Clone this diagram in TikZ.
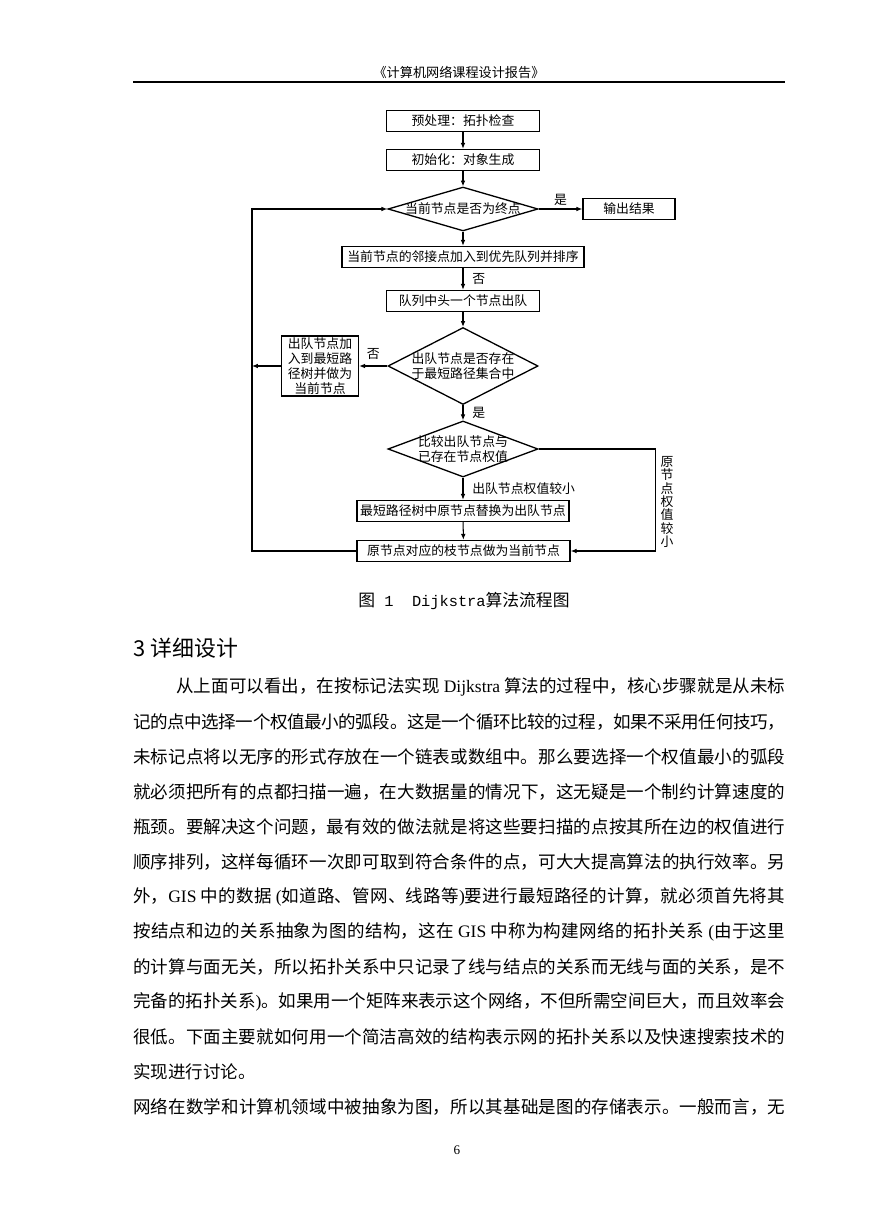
\documentclass[tikz,border=0pt]{standalone}
\usepackage{fontspec}
\setmainfont{Noto Sans CJK SC}
\newfontfamily\lat{Liberation Serif}
\newfontfamily\mono{Liberation Mono}
\usetikzlibrary{shapes.geometric,arrows.meta}
\XeTeXlinebreaklocale "zh"
\XeTeXlinebreakskip=0pt plus 2pt minus 0.6pt
\XeTeXlinebreakpenalty=10000
\hyphenpenalty=10000
\setlength{\parindent}{0pt}
\newcommand{\jline}[1]{\parfillskip=0pt\relax#1\par}
\tikzset{
	procbox/.style={draw,line width=1pt,inner sep=0pt,minimum height=14.4pt,font=\fontsize{8.8}{10.3}\selectfont},
	decision/.style={draw,diamond,line width=0.9pt,inner sep=0pt,minimum width=102.8pt},
	dtext/.style={inner sep=0pt,align=center,font=\fontsize{8.8}{10.5}\selectfont},
	flow/.style={line width=0.7pt,-{Latex[length=4pt,width=3.2pt]}},
	flowlabel/.style={inner sep=0pt,font=\fontsize{8.8}{9.2}\selectfont},
	bodyline/.style={anchor=west,inner sep=0pt,text width=446.6pt,align=justify,font=\fontsize{12}{14}\selectfont},
}
\begin{document}
\begin{tikzpicture}[x=0.685pt,y=-0.685pt]
	\path[use as bounding box,fill=white] (0,0) rectangle (869,1228);
	% running head
	\node [inner sep=0pt,font=\fontsize{9}{10}\selectfont] (head) at (459,72) {《计算机网络课程设计报告》};
	\coordinate (hl) at (133,82); \coordinate (hr) at (785,82);
	\draw [line width=0.8pt] (hl) -- (hr);
	% flow chart
	\node [procbox,minimum width=104.8pt] (pre) at (463,121) {预处理：拓扑检查};
	\node [procbox,minimum width=104.8pt] (init) at (463,160) {初始化：对象生成};
	\node [decision,minimum height=30.1pt] (isend) at (463,209) {};
	\node [dtext] (isendt) at (isend) {当前节点是否为终点};
	\node [procbox,minimum width=63pt] (output) at (629,209) {输出结果};
	\node [procbox,minimum width=165.8pt] (push) at (463,257) {当前节点的邻接点加入到优先队列并排序};
	\node [procbox,minimum width=104.8pt] (pop) at (463,301) {队列中头一个节点出队};
	\node [decision,minimum height=52.7pt] (intree) at (463,366) {};
	\node [dtext] (intreet) at (intree) {出队节点是否存在\\于最短路径集合中};
	\node [procbox,minimum width=52.7pt,minimum height=41.1pt,align=center] (addtree) at (320,366) {出队节点加\\入到最短路\\径树并做为\\当前节点};
	\node [decision,minimum height=38.4pt] (cmp) at (463,449) {};
	\node [dtext] (cmpt) at (cmp) {比较出队节点与\\已存在节点权值};
	\node [procbox,minimum width=145.2pt] (replace) at (463,511) {最短路径树中原节点替换为出队节点};
	\node [procbox,minimum width=145.9pt] (branch) at (463.5,551) {原节点对应的枝节点做为当前节点};
	\draw [flow] (pre) -- (init);
	\draw [flow] (init) -- (isend);
	\draw [flow] (isend) -- (push);
	\draw [flow] (push) -- node [flowlabel,right=6pt] (nolbla) {否} (pop);
	\draw [flow] (pop) -- (intree);
	\draw [flow] (intree) -- node [flowlabel,right=6pt] (yeslblb) {是} (cmp);
	\draw [flow] (cmp) -- node [flowlabel,right=6pt] (smalllbl) {出队节点权值较小} (replace);
	\draw [flow] (replace) -- (branch);
	\draw [flow] (isend) -- node [flowlabel,above=2pt] (yeslbla) {是} (output);
	\draw [flow] (intree) -- node [flowlabel,above=4pt] (nolblb) {否} (addtree);
	% loop back to the test
	\coordinate (loopb) at (252,551);
	\coordinate (loopt) at (252,209);
	\draw [flow] (addtree.west) -- (addtree.west -| loopb);
	\draw [flow] (branch.west) -- (loopb) -- (loopt) -- (isend.west);
	\coordinate (rside) at (655,449);
	\draw [flow] (cmp.east) -- (rside) |- (branch.east);
	\node [flowlabel,align=center] (biglbl) at (667,502) {原\\节\\点\\权\\值\\较\\小};
	% caption and heading
	\node [inner sep=0pt,font=\fontsize{11.5}{13}\selectfont] (cap) at (464,601) {图{\mono\fontsize{10.5}{12}\selectfont\ 1\ \ Dijkstra}算法流程图};
	\node [anchor=west,inner sep=0pt,font=\fontsize{15}{17}\selectfont] (sec) at (133,648) {3~详细设计};
	% body text
	\node [bodyline,text width=417.2pt] (line1) at (176,687) {\jline{从上面可以看出，在按标记法实现~{\lat Dijkstra}~算法的过程中，核心步骤就是从未标}};
	\foreach \txt [count=\n from 2] in {
		{记的点中选择一个权值最小的弧段。这是一个循环比较的过程，如果不采用任何技巧，},
		{未标记点将以无序的形式存放在一个链表或数组中。那么要选择一个权值最小的弧段},
		{就必须把所有的点都扫描一遍，在大数据量的情况下，这无疑是一个制约计算速度的},
		{瓶颈。要解决这个问题，最有效的做法就是将这些要扫描的点按其所在边的权值进行},
		{顺序排列，这样每循环一次即可取到符合条件的点，可大大提高算法的执行效率。另},
		{外，{\lat GIS}~中的数据~{\lat (}如道路、管网、线路等{\lat )}要进行最短路径的计算，就必须首先将其},
		{按结点和边的关系抽象为图的结构，这在~{\lat GIS}~中称为构建网络的拓扑关系~{\lat (}由于这里},
		{的计算与面无关，所以拓扑关系中只记录了线与结点的关系而无线与面的关系，是不},
		{完备的拓扑关系{\lat )}。如果用一个矩阵来表示这个网络，不但所需空间巨大，而且效率会},
		{很低。下面主要就如何用一个简洁高效的结构表示网的拓扑关系以及快速搜索技术的}
	}{
		\node [bodyline] (line\n) at (133,{687+35*(\n-1)}) {\jline{\txt}};
	}
	\node [anchor=west,inner sep=0pt,font=\fontsize{12}{14}\selectfont] (line12) at (133,1072) {实现进行讨论。};
	\node [bodyline] (line13) at (133,1107) {\jline{网络在数学和计算机领域中被抽象为图，所以其基础是图的存储表示。一般而言，无}};
	\node [inner sep=0pt,font=\lat\fontsize{9}{10}\selectfont] (pnum) at (457,1150) {6};
\end{tikzpicture}
\end{document}
